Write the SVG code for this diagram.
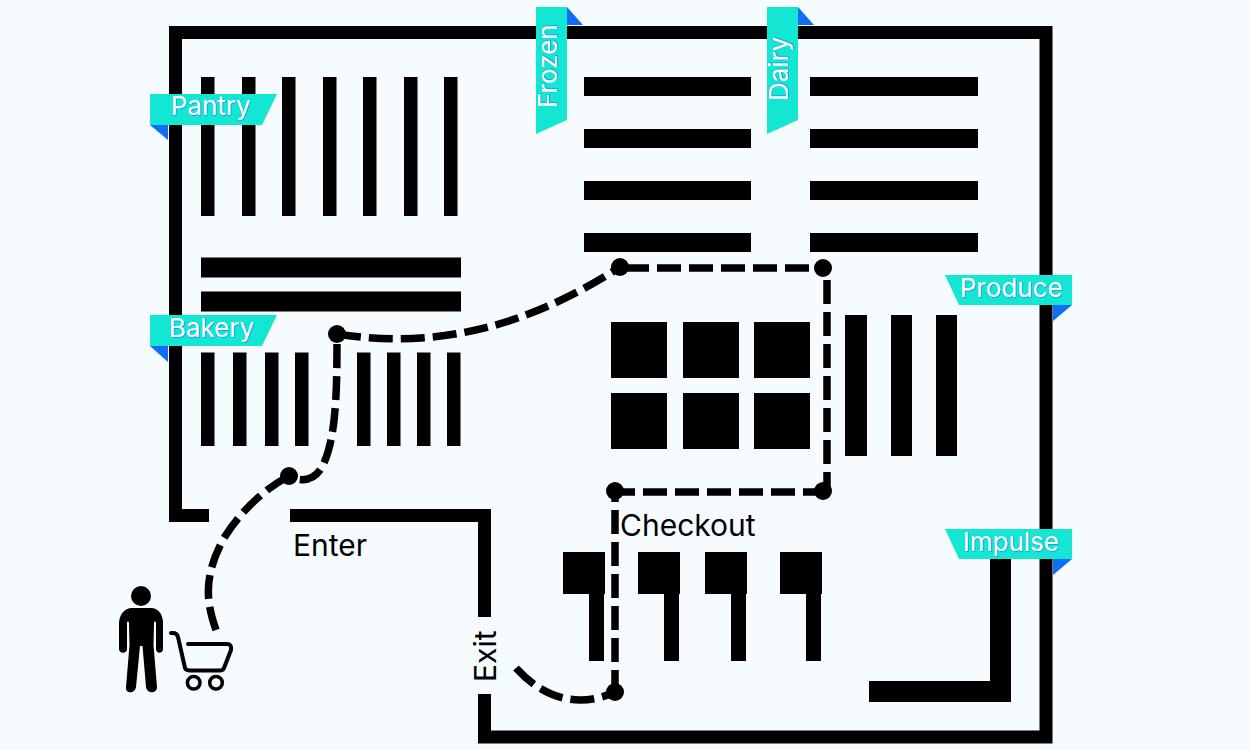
<svg xmlns="http://www.w3.org/2000/svg" width="1250" height="750" viewBox="0 0 1250 750">
<style>
.wall{fill:none;stroke:#000;stroke-width:13}
.k{fill:#000}
.route{fill:none;stroke:#000;stroke-width:7.5;stroke-dasharray:24 8}
.flag{fill:#14e6d4}
.fold{fill:#0f6ef5}
.lbl{font-family:Inter,"Liberation Sans",sans-serif;font-size:26px;fill:#fff;filter:url(#sh)}
.t{font-family:Inter,"Liberation Sans",sans-serif;font-size:30px;fill:#000}
</style>
<defs>
<filter id="sh" x="-10%" y="-10%" width="120%" height="120%"><feDropShadow dx="0.7" dy="0.7" stdDeviation="0.3" flood-color="#0f6ef5" flood-opacity="0.8"/></filter>
</defs>
<rect width="1250" height="750" fill="#f5fbff"/>
<g id="walls">
<path class="wall" d="M209 515.5H175.5V32.5H1046V737H484.5V694"/>
<path class="wall" d="M290 515.5H484.5V617"/>
</g>
<g id="pantry-shelves" class="k">
<rect x="201" y="77" width="13.500" height="139"/><rect x="242" y="77" width="13.500" height="139"/><rect x="282" y="77" width="13.500" height="139"/><rect x="323" y="77" width="13.500" height="139"/><rect x="363" y="77" width="13.500" height="139"/><rect x="404" y="77" width="13.500" height="139"/><rect x="444" y="77" width="13.500" height="139"/>
</g>
<g id="middle-shelves" class="k">
<rect x="201" y="257.500" width="260" height="20"/><rect x="201" y="291.500" width="260" height="20"/>
</g>
<g id="bakery-shelves" class="k">
<rect x="201" y="352.500" width="13.500" height="93.500"/><rect x="233" y="352.500" width="13.500" height="93.500"/><rect x="265" y="352.500" width="13.500" height="93.500"/><rect x="295" y="352.500" width="13.500" height="93.500"/><rect x="357" y="352.500" width="13.500" height="93.500"/><rect x="387" y="352.500" width="13.500" height="93.500"/><rect x="417" y="352.500" width="13.500" height="93.500"/><rect x="447" y="352.500" width="13.500" height="93.500"/>
</g>
<g id="frozen-shelves" class="k">
<rect x="584" y="77" width="167" height="19"/><rect x="584" y="129" width="167" height="19"/><rect x="584" y="181" width="167" height="19"/><rect x="584" y="233" width="167" height="19"/>
</g>
<g id="dairy-shelves" class="k">
<rect x="810" y="77" width="168" height="19"/><rect x="810" y="129" width="168" height="19"/><rect x="810" y="181" width="168" height="19"/><rect x="810" y="233" width="168" height="19"/>
</g>
<g id="produce-bins" class="k">
<rect x="611" y="322" width="56" height="56"/><rect x="683" y="322" width="56" height="56"/><rect x="754" y="322" width="56" height="56"/><rect x="611" y="393" width="56" height="56"/><rect x="683" y="393" width="56" height="56"/><rect x="754" y="393" width="56" height="56"/>
<rect x="845" y="315" width="22" height="141"/><rect x="891" y="315" width="21" height="141"/><rect x="936" y="315" width="21" height="141"/>
</g>
<g id="checkout-counters" class="k">
<path d="M563 552H605V594H604V661H589V594H563Z"/><path d="M638 552H680V594H679V661H664V594H638Z"/><path d="M705 552H747V594H746V661H731V594H705Z"/><path d="M780 552H822V594H821V661H806V594H780Z"/>
</g>
<g id="impulse-shelf" class="k"><path d="M990 550H1011V702H869V681H990Z"/></g>
<g id="connectors">
<path class="route" d="M216 630C207 604 202 578 224 538C238 515 262 490 289 476"/>
<path class="route" d="M337 344C337 400 335 440 323 465C315 482 300 482 289 476"/>
<path class="route" d="M337 334C440 350 530 325 620 267"/>
<path class="route" d="M625 268H823"/>
<path class="route" d="M827 280V492"/>
<path class="route" d="M827 492H615"/>
<path class="route" stroke-dashoffset="5" style="stroke-dashoffset:5" d="M615 483V692"/>
<path class="route" d="M516 668C545 700 580 708 615 692"/>
<circle cx="289" cy="476" r="9"/><circle cx="337" cy="334" r="9"/><circle cx="620" cy="267" r="9"/><circle cx="823" cy="268" r="9"/><circle cx="823" cy="491" r="9"/><circle cx="615" cy="491" r="9"/><circle cx="615" cy="692" r="9"/>
</g>
<g id="shopper">
<circle cx="141" cy="596" r="10"/>
<path d="M131 608H152C159 609 162 614 163 621V649C163 654 156 654 156 649V623C156 621 154 621 154 623L153.500 645L157 687C157 694 147 694 146 687L142.500 646H140L136 687C135 694 125 694 126 687L129.500 645L129 623C129 621 127 621 127 623V649C127 654 119 654 119 649V622C120 614 124 609 131 608Z"/>
</g>
<g id="cart" fill="none" stroke="#000" stroke-linecap="round" stroke-linejoin="round">
<path stroke-width="4" d="M171 633H173Q177 633 178 637L185 668Q186 670.500 190 670.500H220Q223 670.500 224 668L231 650Q232 644 227 644H188"/>
<circle cx="193.700" cy="682.700" r="6.300" stroke-width="3.500"/><circle cx="216" cy="682.700" r="6.300" stroke-width="3.500"/>
</g>
<g id="pantry"><polygon class="flag" points="150,94 277,94 262,125 150,125"/><polygon class="fold" points="150,125 168,125 168,140"/><text class="lbl" x="171" y="115">Pantry</text></g>
<g id="bakery"><polygon class="flag" points="150,315 277,315 262,346 150,346"/><polygon class="fold" points="150,346 168,346 168,362"/><text class="lbl" x="169" y="337">Bakery</text></g>
<g id="frozen"><polygon class="flag" points="536,7 567,7 567,120 536,134"/><polygon class="fold" points="567,7 583,25 567,25"/><text class="lbl" transform="translate(557 108) rotate(-90)">Frozen</text></g>
<g id="dairy"><polygon class="flag" points="767,7 798,7 798,120 767,134"/><polygon class="fold" points="798,7 814,25 798,25"/><text class="lbl" transform="translate(788 101) rotate(-90)">Dairy</text></g>
<g id="produce"><polygon class="flag" points="945,275 1072,275 1072,305 959,305"/><polygon class="fold" points="1072,305 1053,305 1053,321"/><text class="lbl" x="960" y="297">Produce</text></g>
<g id="impulse"><polygon class="flag" points="945,529 1072,529 1072,559 959,559"/><polygon class="fold" points="1072,559 1053,559 1053,575"/><text class="lbl" x="963" y="551">Impulse</text></g>
<text class="t" x="293" y="556">Enter</text>
<text class="t" x="620" y="536">Checkout</text>
<text class="t" transform="translate(496 682) rotate(-90)">Exit</text>
</svg>
